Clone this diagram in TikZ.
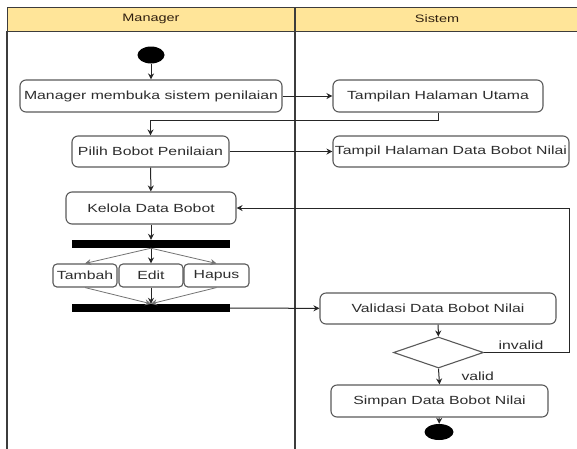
\documentclass[tikz,border=0pt]{standalone}
\usepackage{fontspec}
\setmainfont{Liberation Sans}[FakeStretch=1.34]
\usetikzlibrary{shapes.geometric,arrows.meta}
\definecolor{lanehead}{RGB}{255,229,153}
\definecolor{laneline}{RGB}{60,60,60}
\definecolor{boxline}{RGB}{90,90,90}
\definecolor{txt}{RGB}{45,45,45}
\tikzset{
  act/.style={draw=boxline, line width=1.1pt, rounded corners=6pt, fill=white,
    text=txt, font=\fontsize{11.8}{13}\selectfont, inner sep=0pt, anchor=center},
  bar/.style={fill=black, draw=none, inner sep=0pt},
  dot/.style={ellipse, fill=black, draw=none, inner sep=0pt},
  choice/.style={diamond, draw=boxline, line width=1.1pt, fill=white, inner sep=0pt,
    aspect=2.9},
  flow/.style={draw=black!85, line width=1pt, -{Stealth[length=6pt,width=6pt]}},
  thin/.style={draw=black!55, line width=0.8pt, -{Stealth[length=6pt,width=6pt]}},
  lbl/.style={text=txt, font=\fontsize{11.8}{13}\selectfont, inner sep=0pt},
  headtxt/.style={text=black!75!brown, font=\fontsize{10.8}{12}\selectfont, inner sep=0pt}
}
\begin{document}
\begin{tikzpicture}[x=1pt,y=-1pt]
\useasboundingbox (0,0) rectangle (577,448);
\fill[white] (0,0) rectangle (577,448);

% swimlanes
\fill[lanehead] (7,7) rectangle (580,31);
\draw[laneline, line width=1pt] (580,7) -- (7,7) -- (7,31) -- (580,31);
\draw[laneline, line width=1.4pt] (7,31) -- (7,452);
\draw[laneline, line width=1.4pt] (295,7) -- (295,452);
\node[headtxt] (hm) at (151,19) {Manager};
\node[headtxt] (hs) at (437,19) {Sistem};

% actions
\node[dot, minimum width=27pt, minimum height=17pt] (start) at (151,55) {};
\node[act, minimum width=262pt, minimum height=32pt] (open) at (151,96) {Manager membuka sistem penilaian};
\node[act, minimum width=210pt, minimum height=32pt] (home) at (438,96) {Tampilan Halaman Utama};
\node[act, minimum width=157pt, minimum height=31pt] (pick) at (150.5,151.5) {Pilih Bobot Penilaian};
\node[act, minimum width=236pt, minimum height=31pt] (page) at (451,151.5) {Tampil Halaman Data Bobot Nilai};
\node[act, minimum width=170pt, minimum height=32pt] (manage) at (151,208) {Kelola Data Bobot};
\node[bar, minimum width=158pt, minimum height=8pt] (fork) at (151,244) {};
\node[act, rounded corners=4pt, minimum width=64pt, minimum height=23pt] (add) at (85,275.5) {Tambah};
\node[act, rounded corners=4pt, minimum width=64pt, minimum height=23pt] (edit) at (151,275.5) {Edit};
\node[act, rounded corners=4pt, minimum width=65pt, minimum height=23pt] (del) at (216.5,275.5) {Hapus};
\node[bar, minimum width=158pt, minimum height=8pt] (join) at (151,308) {};
\node[act, minimum width=236pt, minimum height=31pt] (check) at (438,308.5) {Validasi Data Bobot Nilai};
\node[choice, minimum width=90pt, minimum height=31pt] (ok) at (438.5,352.5) {};
\node[act, minimum width=217pt, minimum height=32pt] (save) at (439.5,401) {Simpan Data Bobot Nilai};
\node[dot, minimum width=29pt, minimum height=16pt] (stop) at (439,432) {};

% flows
\draw[flow] (start) -- (open);
\draw[flow] (open) -- (home);
\draw[flow] (home.south) -- ++(0,8) -| (pick.north);
\draw[flow] (pick) -- (page);
\draw[flow] (pick) -- (manage);
\draw[flow] (manage) -- (fork);
\draw[thin] (fork.south) -- (add.north);
\draw[flow] (fork.south) -- (edit.north);
\draw[thin] (fork.south) -- (del.north);
\draw[thin] (add.south) -- (join.north);
\draw[flow] (edit.south) -- (join.north);
\draw[thin] (del.south) -- (join.north);
\draw[flow] (join) -- (check);
\draw[flow] (check) -- (ok);
\draw[flow] (ok.east) -- (569,352.5) |- (manage.east)
  node[lbl, pos=0.0, anchor=south east, xshift=-25pt, yshift=2pt] (inv) {invalid};
\draw[flow] (ok.south) -- (save.north)
  node[lbl, midway, anchor=west, xshift=22pt] (val) {valid};
\draw[flow] (save) -- (stop);
\end{tikzpicture}
\end{document}
